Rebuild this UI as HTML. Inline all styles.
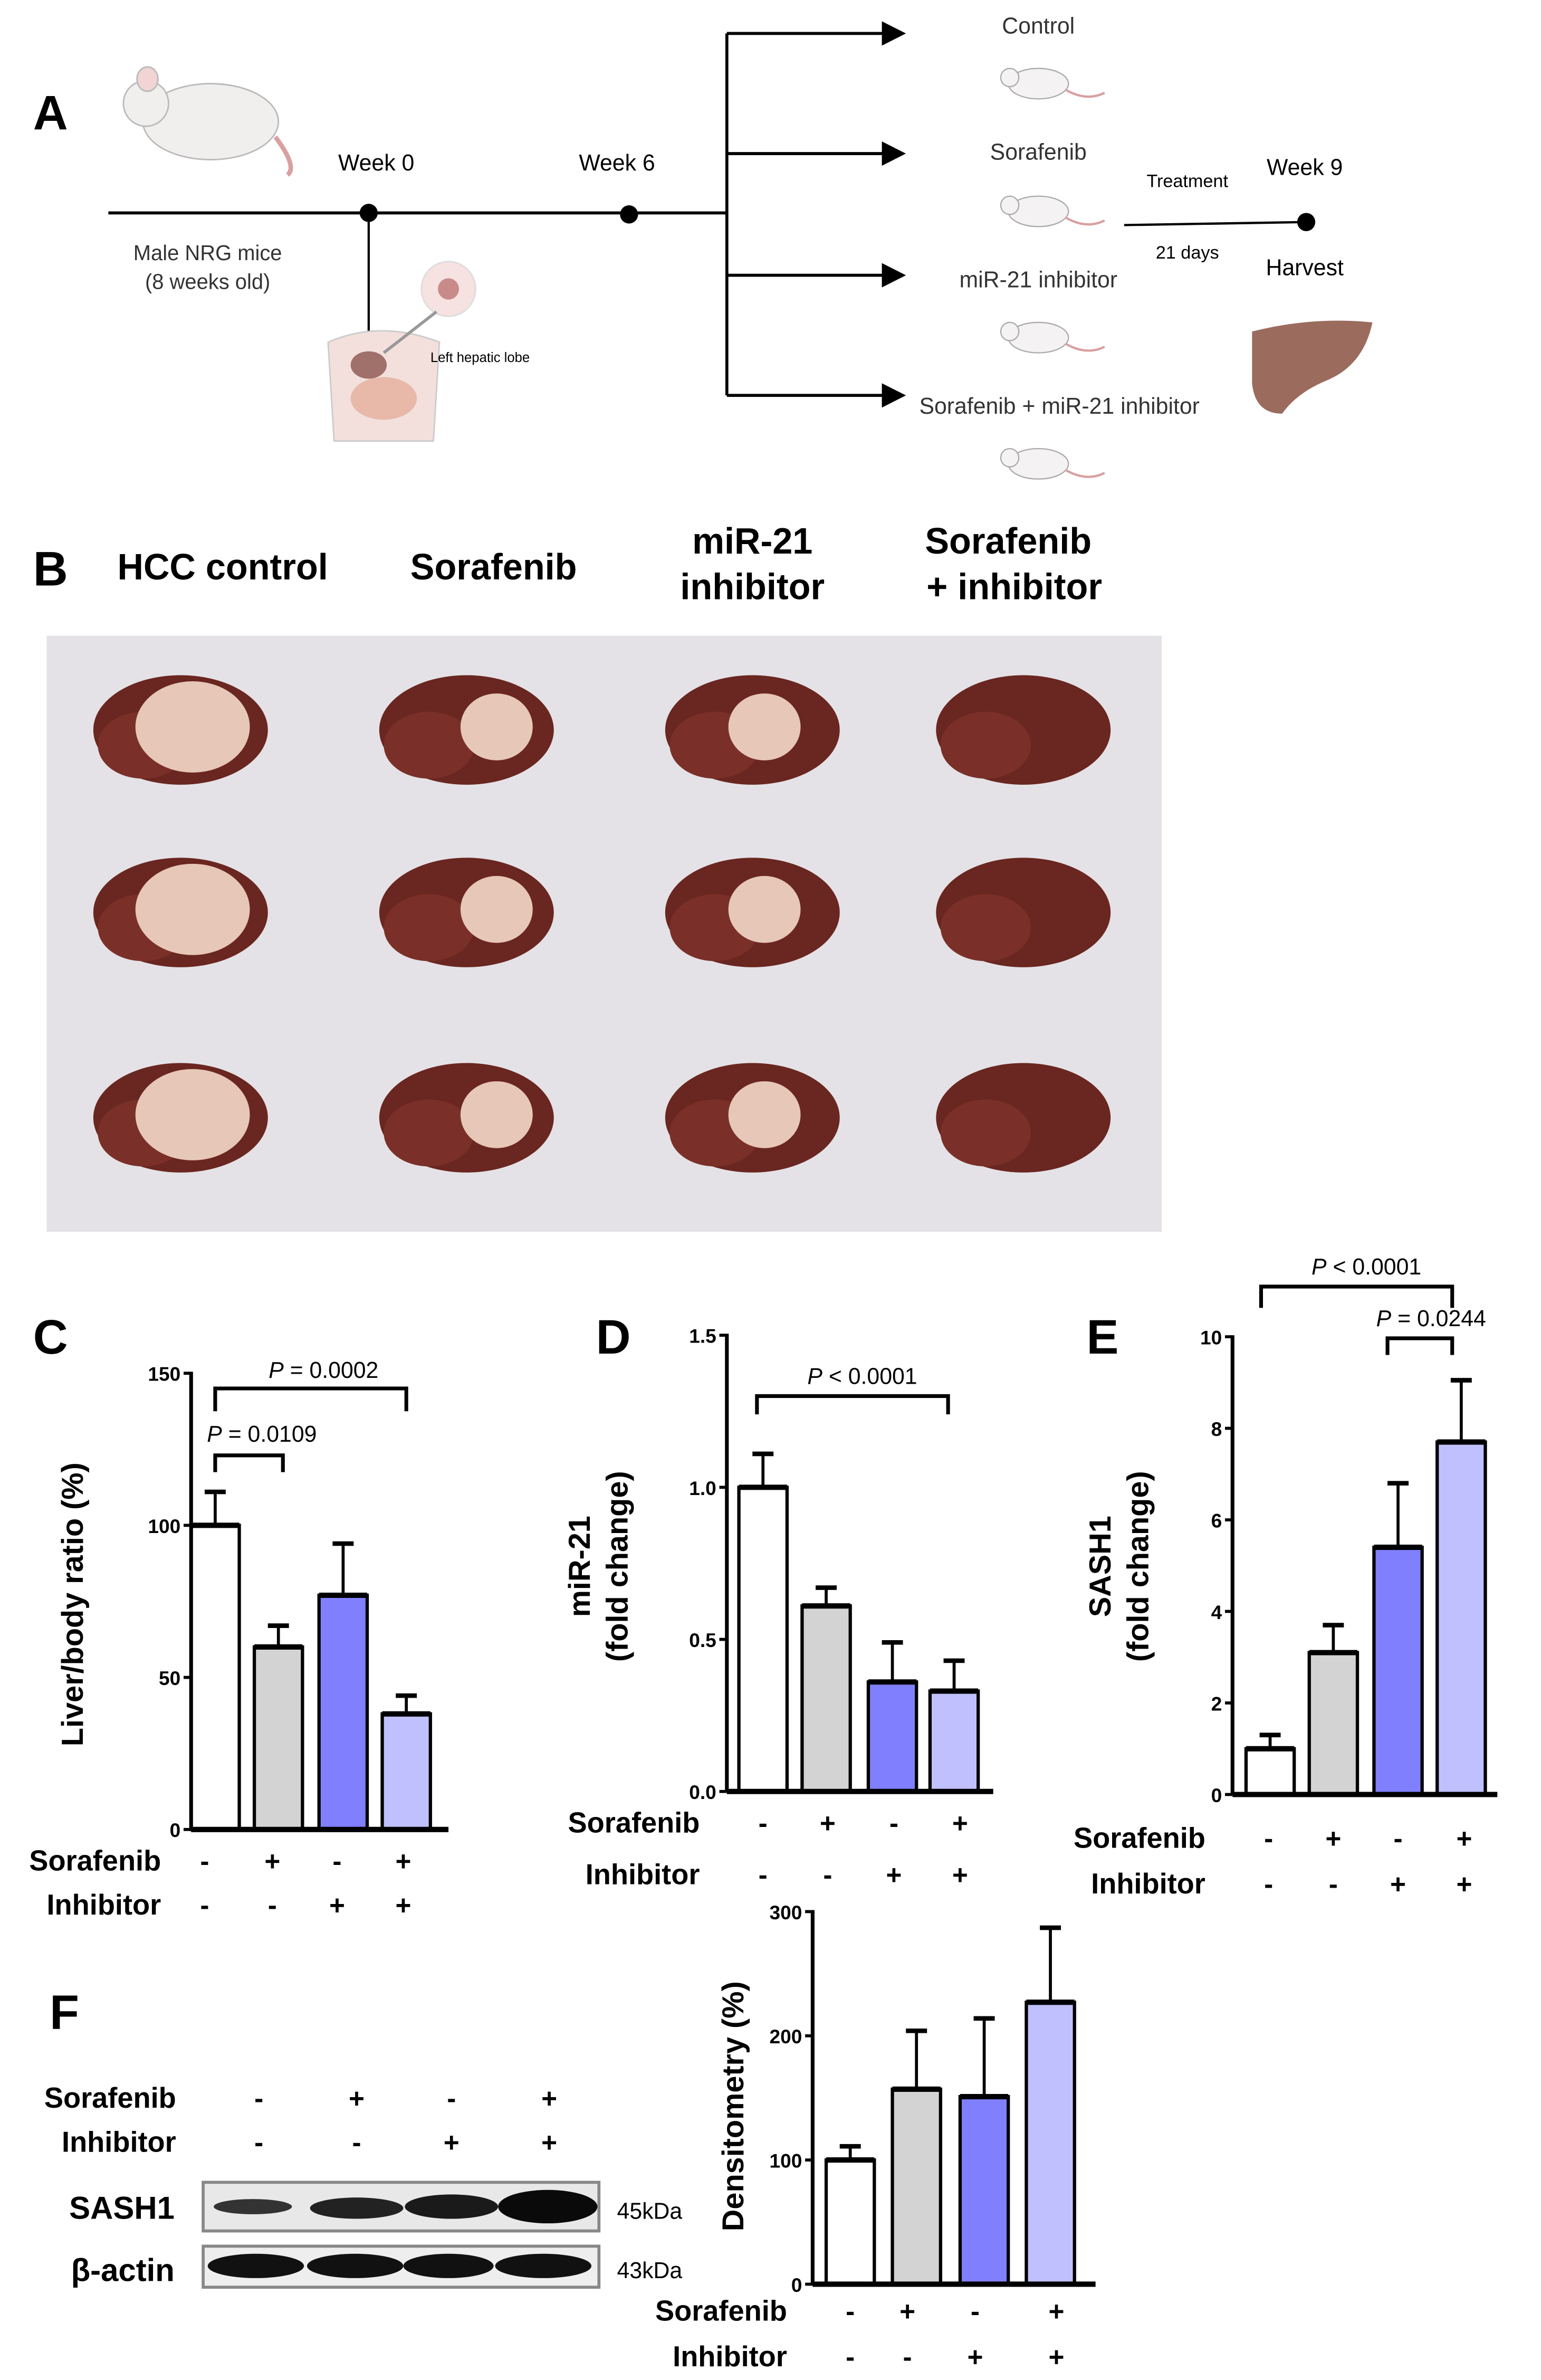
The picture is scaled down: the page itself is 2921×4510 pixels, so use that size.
<!DOCTYPE html>
<html><head><meta charset="utf-8"><style>
html,body{margin:0;padding:0;background:#fff;}
svg{display:block;}
text{font-family:"Liberation Sans",sans-serif;}
.b{font-weight:bold;}
</style></head><body>
<svg id="fig" xmlns="http://www.w3.org/2000/svg" width="2921" height="4510" viewBox="0 0 1024 1565" preserveAspectRatio="none">
<defs>
<marker id="arr" markerWidth="8" markerHeight="8" refX="7" refY="4" orient="auto"><path d="M0,0 L8,4 L0,8 z" fill="#000"/></marker>
<g id="mouse"><ellipse cx="0" cy="0" rx="20" ry="10" fill="#f4f2f2" stroke="#aaa" stroke-width="0.8"/><circle cx="-19" cy="-4" r="6" fill="#f4f2f2" stroke="#aaa" stroke-width="0.8"/><path d="M18,4 q14,8 26,2" stroke="#d9a0a0" fill="none" stroke-width="1.5"/></g>
</defs>

<!-- Panel A -->
<g>
<text x="22" y="85" font-size="32" class="b">A</text>
<g><ellipse cx="140" cy="80" rx="45" ry="25" fill="#f1eeee" stroke="#bbb"/><circle cx="97" cy="68" r="15" fill="#f1eeee" stroke="#bbb"/><ellipse cx="98" cy="52" rx="7" ry="8" fill="#f2d4d4" stroke="#bbb"/><path d="M183,90 q15,20 8,25" stroke="#d9a0a0" fill="none" stroke-width="3"/></g>
<line x1="72" y1="140" x2="483" y2="140" stroke="#000" stroke-width="2"/>
<circle cx="245" cy="140" r="6" fill="#000"/>
<circle cx="418" cy="141" r="6" fill="#000"/>
<text x="250" y="112" font-size="15" text-anchor="middle">Week 0</text>
<text x="410" y="112" font-size="15" text-anchor="middle">Week 6</text>
<text x="138" y="171" font-size="14" text-anchor="middle" fill="#333">Male NRG mice</text>
<text x="138" y="190" font-size="14" text-anchor="middle" fill="#333">(8 weeks old)</text>
<line x1="245" y1="140" x2="245" y2="235" stroke="#000" stroke-width="1.5"/>
<g><path d="M218,225 q35,-15 74,0 l-4,65 h-66z" fill="#f3e0dc" stroke="#ccc"/><ellipse cx="245" cy="240" rx="12" ry="9" fill="#a0706a"/><ellipse cx="255" cy="262" rx="22" ry="14" fill="#e8b8a8"/><circle cx="298" cy="190" r="18" fill="#f6e2e0" stroke="#ddd"/><circle cx="298" cy="190" r="7" fill="#c98a8a"/><line x1="255" y1="232" x2="290" y2="205" stroke="#999" stroke-width="2"/></g>
<text x="286" y="238" font-size="9">Left hepatic lobe</text>
<line x1="483" y1="22" x2="483" y2="260" stroke="#000" stroke-width="2"/>
<line x1="483" y1="22" x2="600" y2="22" stroke="#000" stroke-width="2" marker-end="url(#arr)"/>
<line x1="483" y1="101" x2="600" y2="101" stroke="#000" stroke-width="2" marker-end="url(#arr)"/>
<line x1="483" y1="181" x2="600" y2="181" stroke="#000" stroke-width="2" marker-end="url(#arr)"/>
<line x1="483" y1="260" x2="600" y2="260" stroke="#000" stroke-width="2" marker-end="url(#arr)"/>
<text x="690" y="22" font-size="15" text-anchor="middle" fill="#333">Control</text>
<text x="690" y="105" font-size="15" text-anchor="middle" fill="#333">Sorafenib</text>
<text x="690" y="189" font-size="15" text-anchor="middle" fill="#333">miR-21 inhibitor</text>
<text x="704" y="272" font-size="15" text-anchor="middle" fill="#333">Sorafenib + miR-21 inhibitor</text>
<use href="#mouse" x="690" y="55"/><use href="#mouse" x="690" y="139"/><use href="#mouse" x="690" y="222"/><use href="#mouse" x="690" y="305"/>
<text x="789" y="123" font-size="12" text-anchor="middle">Treatment</text>
<line x1="747" y1="148" x2="868" y2="146" stroke="#000" stroke-width="1.5"/>
<circle cx="868" cy="146" r="6" fill="#000"/>
<text x="789" y="170" font-size="12" text-anchor="middle">21 days</text>
<text x="867" y="115" font-size="15" text-anchor="middle">Week 9</text>
<text x="867" y="181" font-size="15" text-anchor="middle">Harvest</text>
<path d="M832,218 q40,-10 80,-6 q-6,28 -30,38 q-20,8 -30,22 q-18,0 -20,-20z" fill="#9b6b5e"/>
</g>

<!-- Panel B -->
<g>
<text x="22" y="385" font-size="32" class="b">B</text>
<text x="148" y="381" font-size="24" class="b" text-anchor="middle">HCC control</text>
<text x="328" y="381" font-size="24" class="b" text-anchor="middle">Sorafenib</text>
<text x="500" y="364" font-size="24" class="b" text-anchor="middle">miR-21</text>
<text x="500" y="394" font-size="24" class="b" text-anchor="middle">inhibitor</text>
<text x="670" y="364" font-size="24" class="b" text-anchor="middle">Sorafenib</text>
<text x="674" y="394" font-size="24" class="b" text-anchor="middle">+ inhibitor</text>
<rect x="31" y="418" width="741" height="392" fill="#e4e2e6"/>
<g id="livers"></g>
</g>

<g id="charts"></g>

<!-- Western blot -->
<g>
<text x="33" y="1334" font-size="32" class="b">F</text>
<text x="116" y="1459" font-size="21" class="b" text-anchor="end">SASH1</text>
<text x="116" y="1500" font-size="21" class="b" text-anchor="end">β-actin</text>
<rect x="135" y="1435" width="263" height="32" fill="#e8e8e8" stroke="#888" stroke-width="2"/>
<rect x="135" y="1477" width="263" height="27" fill="#eee" stroke="#888" stroke-width="2"/>
<ellipse cx="168" cy="1451" rx="26" ry="5" fill="#333"/>
<ellipse cx="237" cy="1452" rx="31" ry="7" fill="#222"/>
<ellipse cx="300" cy="1451" rx="31" ry="8" fill="#1a1a1a"/>
<ellipse cx="364" cy="1451" rx="33" ry="11" fill="#0a0a0a"/>
<ellipse cx="170" cy="1490" rx="32" ry="8" fill="#111"/>
<ellipse cx="236" cy="1490" rx="32" ry="8" fill="#111"/>
<ellipse cx="298" cy="1490" rx="30" ry="8" fill="#111"/>
<ellipse cx="361" cy="1490" rx="32" ry="8" fill="#111"/>
<text x="410" y="1459" font-size="15">45kDa</text>
<text x="410" y="1498" font-size="15">43kDa</text>
</g>
</svg>
<script>
var NS='http://www.w3.org/2000/svg';
function mk(parent,tag,attrs){var e=document.createElementNS(NS,tag);for(var k in attrs)e.setAttribute(k,attrs[k]);parent.appendChild(e);return e;}

// Liver photo blobs
var liverCols=[120,310,500,680];
var liverRows=[480,600,735];
var lg=document.getElementById('livers');
liverRows.forEach(function(cy,ri){liverCols.forEach(function(cx,ci){
  var g=mk(lg,'g',{});
  
  
  mk(g,'ellipse',{cx:cx,cy:cy,rx:58,ry:36,fill:'#6a2620'});
  mk(g,'ellipse',{cx:cx-25,cy:cy+10,rx:30,ry:22,fill:'#7a3028'});
  if(ci<3){mk(g,'ellipse',{cx:cx+(ci==1?20:8),cy:cy-2,rx:ci==0?38:24,ry:ci==0?30:22,fill:'#e6c7b8'});}
});});

var colors=['#ffffff','#d3d3d3','#8080ff','#c0c0ff'];
var sorafenibSigns=['-','+','-','+'];
var inhibitorSigns=['-','-','+','+'];

// Chart C
var cValues=[100,60,77,38];
var cErrors=[11,7,17,6];
var cTicks=[0,50,100,150];
// Chart D
var dValues=[1.0,0.61,0.36,0.33];
var dErrors=[0.11,0.06,0.13,0.10];
var dTicks=[0.0,0.5,1.0,1.5];
// Chart E
var eValues=[1.0,3.1,5.4,7.7];
var eErrors=[0.3,0.6,1.4,1.35];
var eTicks=[0,2,4,6,8,10];
// Chart F
var fValues=[100,157,151,227];
var fErrors=[11,47,63,60];
var fTicks=[0,100,200,300];

var cg=document.getElementById('charts');
function chart(o){
  var g=mk(cg,'g',{});
  
  
  var ymax=o.ticks[o.ticks.length-1];
  function y(v){return o.y0-(v/ymax)*(o.y0-o.y1);}
  if(o.letter){var L=mk(g,'text',{x:o.lx,y:o.ly,'font-size':32,'font-weight':'bold'});L.textContent=o.letter;
    }
  o.values.forEach(function(v,i){
    var cx=o.xs[i],top=y(v),et=y(v+o.errors[i]);
    var ln=mk(g,'line',{x1:cx,x2:cx,y1:top,y2:et,stroke:'#000','stroke-width':2});
    var cap=mk(g,'line',{x1:cx-7,x2:cx+7,y1:et,y2:et,stroke:'#000','stroke-width':3});
    var r=mk(g,'rect',{x:cx-o.bw/2,y:top,width:o.bw,height:o.y0-top,fill:colors[i],stroke:'#000','stroke-width':2.2});
    
    
    mk(g,'line',{x1:cx-o.bw/2,x2:cx+o.bw/2,y1:top,y2:top,stroke:'#000','stroke-width':3.5});
  });
  var ya=mk(g,'line',{x1:o.ax,x2:o.ax,y1:o.y1-1,y2:o.y0,stroke:'#000','stroke-width':2.5});
  
  var xa=mk(g,'line',{x1:o.ax,x2:o.xend,y1:o.y0,y2:o.y0,stroke:'#000','stroke-width':3.5});
  
  o.ticks.forEach(function(t){
    mk(g,'line',{x1:o.ax-5,x2:o.ax,y1:y(t),y2:y(t),stroke:'#000','stroke-width':2});
    var tx=mk(g,'text',{x:o.ax-7,y:y(t)+5,'font-size':13,'font-weight':'bold','text-anchor':'end'});
    tx.textContent=o.fmt?o.fmt(t):t;
    
  });
  o.title.forEach(function(s,i){
    var tx=mk(g,'text',{x:0,y:0,'font-size':20,'font-weight':'bold','text-anchor':'middle',transform:'translate('+(o.tx+i*25)+','+o.ty+') rotate(-90)'});
    tx.textContent=s;
    
  });
  (o.brackets||[]).forEach(function(b){
    var p=mk(g,'path',{d:'M'+b[0]+','+b[3]+' V'+b[2]+' H'+b[1]+' V'+b[3],fill:'none',stroke:'#000','stroke-width':2.5});
    
    var tx=mk(g,'text',{x:b[5],y:b[6],'font-size':15,'text-anchor':'middle'});
    var it=mk(tx,'tspan',{'font-style':'italic'});it.textContent='P';
    var rest=mk(tx,'tspan',{});rest.textContent=b[4];
    
  });
  [['Sorafenib',sorafenibSigns,o.r1],['Inhibitor',inhibitorSigns,o.r2]].forEach(function(r){
    var lb=mk(g,'text',{x:r[2][0],y:r[2][1],'font-size':19,'font-weight':'bold','text-anchor':'end'});
    lb.textContent=r[0];
    
    r[1].forEach(function(s,i){
      var st=mk(g,'text',{x:o.sx[i],y:r[2][1],'font-size':18,'font-weight':'bold','text-anchor':'middle'});
      st.textContent=s;
      
    });
  });
}
chart({name:'chart-c-liver-ratio',letter:'C',lx:22,ly:890,values:cValues,errors:cErrors,ticks:cTicks,xs:[143,185,228,270],bw:32,ax:127,xend:298,y0:1203,y1:903,
  title:['Liver/body ratio (%)'],tx:55,ty:1055,
  brackets:[[143,270,913,928,' = 0.0002',215,906],[143,188,957,968,' = 0.0109',174,948]],
  r1:[107,1230],r2:[107,1259],sx:[136,181,224,268]});
chart({name:'chart-d-mir21',letter:'D',lx:396,ly:890,values:dValues,errors:dErrors,ticks:dTicks,xs:[507,549,593,634],bw:32,ax:483,xend:660,y0:1178,y1:878,fmt:function(t){return t.toFixed(1);},
  title:['miR-21','(fold change)'],tx:392,ty:1030,
  brackets:[[503,630,918,930,' < 0.0001',573,910]],
  r1:[465,1205],r2:[465,1239],sx:[507,550,594,638]});
chart({name:'chart-e-sash1',letter:'E',lx:722,ly:890,values:eValues,errors:eErrors,ticks:eTicks,xs:[844,886,929,971],bw:32,ax:819,xend:995,y0:1180,y1:879,
  title:['SASH1','(fold change)'],tx:738,ty:1030,
  brackets:[[838,965,846,860,' < 0.0001',908,838],[922,965,880,891,' = 0.0244',951,872]],
  r1:[801,1215],r2:[801,1245],sx:[843,886,929,973]});
chart({name:'chart-f-densitometry',letter:null,values:fValues,errors:fErrors,ticks:fTicks,xs:[565,609,654,698],bw:32,ax:540,xend:728,y0:1502,y1:1257,
  title:['Densitometry (%)'],tx:494,ty:1385,
  r1:[523,1526],r2:[523,1556],sx:[565,603,648,702]});
// blot-side rows
(function(){
  var g=mk(cg,'g',{});
  
  
  var xs=[172,237,300,365];
  [['Sorafenib',sorafenibSigns,1386],['Inhibitor',inhibitorSigns,1415]].forEach(function(r){
    var lb=mk(g,'text',{x:117,y:r[2],'font-size':19,'font-weight':'bold','text-anchor':'end'});lb.textContent=r[0];
    
    r[1].forEach(function(s,i){var st=mk(g,'text',{x:xs[i],y:r[2],'font-size':18,'font-weight':'bold','text-anchor':'middle'});st.textContent=s;
      });
  });
})();
</script>
</body></html>
